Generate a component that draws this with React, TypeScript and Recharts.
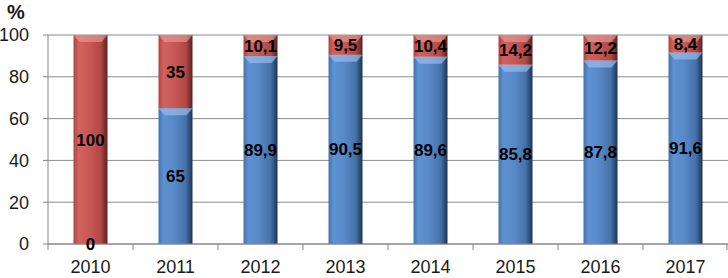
import React from 'react'
import { BarChart, Bar, XAxis, YAxis, CartesianGrid, LabelList } from 'recharts'

const years = ['2010', '2011', '2012', '2013', '2014', '2015', '2016', '2017']
const blueValues = [0, 65, 89.9, 90.5, 89.6, 85.8, 87.8, 91.6]
const redValues = [100, 35, 10.1, 9.5, 10.4, 14.2, 12.2, 8.4]
const yTicks = [0, 20, 40, 60, 80, 100]

const data = years.map((y, i) => ({ year: y, blue: blueValues[i], red: redValues[i] }))

const fmt = (v: any) => String(v).replace('.', ',')

const FONT = '"Liberation Sans", Arial, sans-serif'

function Cylinder(props: any) {
  const { x, y, width, height, fill, light } = props
  if (height <= 0) return null
  const bev = Math.min(7, height)
  return (
    <g>
      <rect x={x} y={y} width={width} height={height} fill={fill} />
      <polygon
        points={`${x},${y} ${x + width},${y} ${x + width - 6},${y + bev} ${x + 6},${y + bev}`}
        fill={light}
        opacity={0.65}
      />
    </g>
  )
}

function XTick(props: any) {
  const { x, y, payload, index } = props
  const half = 42.5
  return (
    <g>
      <line x1={x - half} y1={y - 8} x2={x - half} y2={y - 2} stroke="#868686" />
      {index === years.length - 1 && (
        <line x1={x + half - 1} y1={y - 8} x2={x + half - 1} y2={y - 2} stroke="#868686" />
      )}
      <text x={x} y={y + 21} textAnchor="middle" fontSize={18} fontFamily={FONT} fill="#1a1a1a">
        {payload.value}
      </text>
    </g>
  )
}

export default function App() {
  return (
    <div style={{ position: 'absolute', left: 0, top: 0, background: '#fff' }}>
      <BarChart
        width={728}
        height={278}
        data={data}
        margin={{ top: 35, right: 0, bottom: 0, left: 0 }}
        barCategoryGap="30%"
      >
        <defs>
          <linearGradient id="gBlue" x1="0" y1="0" x2="1" y2="0">
            <stop offset="0%" stopColor="#4473ad" />
            <stop offset="15%" stopColor="#5e92d3" />
            <stop offset="45%" stopColor="#5989c8" />
            <stop offset="80%" stopColor="#4672aa" />
            <stop offset="100%" stopColor="#1d3352" />
          </linearGradient>
          <linearGradient id="gRed" x1="0" y1="0" x2="1" y2="0">
            <stop offset="0%" stopColor="#ad4441" />
            <stop offset="15%" stopColor="#d2625e" />
            <stop offset="45%" stopColor="#c85855" />
            <stop offset="80%" stopColor="#b24845" />
            <stop offset="100%" stopColor="#5a2120" />
          </linearGradient>
        </defs>
        <text x={7} y={19} fontSize={20} fontWeight="bold" fontFamily={FONT} fill="#1a1a1a">
          %
        </text>
        <CartesianGrid horizontal vertical={false} stroke="#8c8c8c" />
        <XAxis
          dataKey="year"
          height={34}
          stroke="#868686"
          tickLine={false}
          tick={<XTick />}
        />
        <YAxis
          width={48}
          domain={[0, 100]}
          ticks={yTicks}
          stroke="#868686"
          tickSize={5}
          tickMargin={14}
          tick={{ fontSize: 18, fill: '#1a1a1a', fontFamily: FONT }}
        />
        <Bar
          dataKey="blue"
          stackId="s"
          fill="url(#gBlue)"
          isAnimationActive={false}
          shape={(p: any) => <Cylinder {...p} fill="url(#gBlue)" light="#9cc0ee" />}
        >
          <LabelList
            dataKey="blue"
            position="center"
            formatter={fmt}
            style={{ fontSize: 17, fontWeight: 'bold', fill: '#000', fontFamily: FONT }}
          />
        </Bar>
        <Bar
          dataKey="red"
          stackId="s"
          fill="url(#gRed)"
          isAnimationActive={false}
          shape={(p: any) => <Cylinder {...p} fill="url(#gRed)" light="#e89a97" />}
        >
          <LabelList
            dataKey="red"
            position="center"
            formatter={fmt}
            style={{ fontSize: 17, fontWeight: 'bold', fill: '#000', fontFamily: FONT }}
          />
        </Bar>
      </BarChart>
    </div>
  )
}
